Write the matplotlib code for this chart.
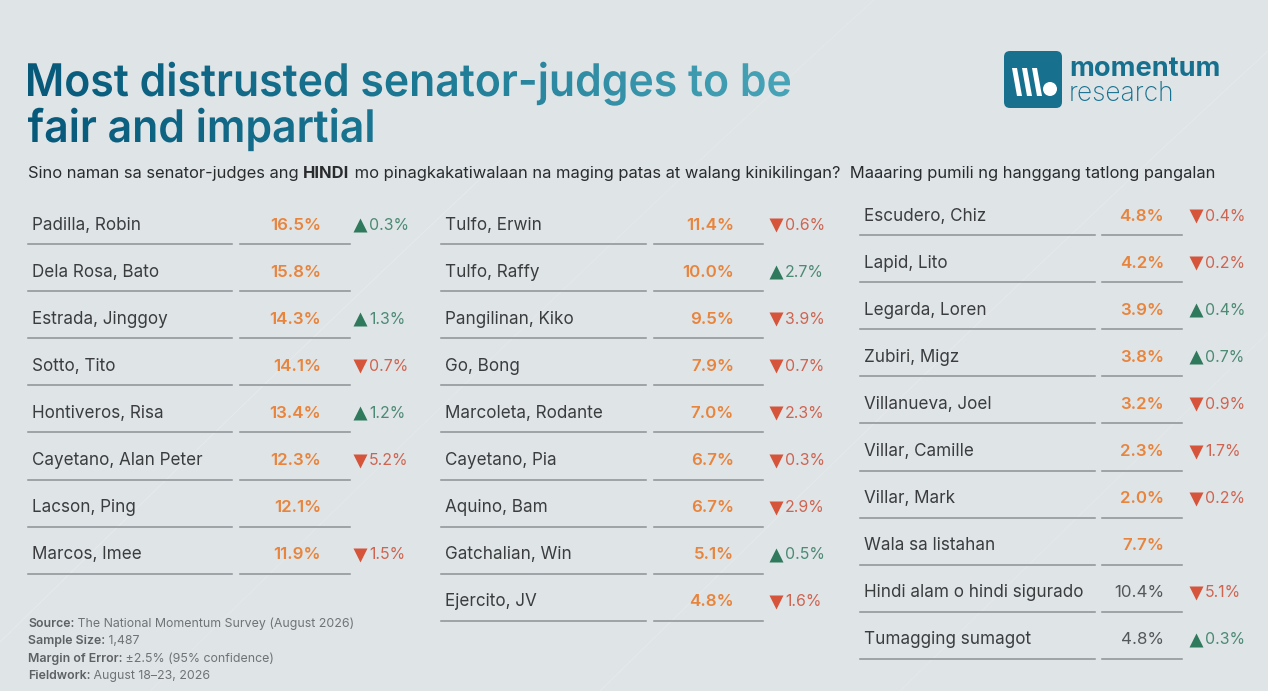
import matplotlib.pyplot as plt
import numpy as np
from matplotlib.textpath import TextPath
from matplotlib.patches import PathPatch, FancyBboxPatch, Circle, Polygon
from matplotlib.font_manager import FontProperties
from matplotlib.transforms import Affine2D
from matplotlib.colors import LinearSegmentedColormap

plt.rcParams['font.family'] = ['Inter', 'DejaVu Sans']

# data
names1 = ['Padilla, Robin', 'Dela Rosa, Bato', 'Estrada, Jinggoy', 'Sotto, Tito',
          'Hontiveros, Risa', 'Cayetano, Alan Peter', 'Lacson, Ping', 'Marcos, Imee']
vals1 = [16.5, 15.8, 14.3, 14.1, 13.4, 12.3, 12.1, 11.9]
chg1 = [0.3, None, 1.3, -0.7, 1.2, -5.2, None, -1.5]

names2 = ['Tulfo, Erwin', 'Tulfo, Raffy', 'Pangilinan, Kiko', 'Go, Bong',
          'Marcoleta, Rodante', 'Cayetano, Pia', 'Aquino, Bam', 'Gatchalian, Win',
          'Ejercito, JV']
vals2 = [11.4, 10.0, 9.5, 7.9, 7.0, 6.7, 6.7, 5.1, 4.8]
chg2 = [-0.6, 2.7, -3.9, -0.7, -2.3, -0.3, -2.9, 0.5, -1.6]

names3 = ['Escudero, Chiz', 'Lapid, Lito', 'Legarda, Loren', 'Zubiri, Migz',
          'Villanueva, Joel', 'Villar, Camille', 'Villar, Mark', 'Wala sa listahan',
          'Hindi alam o hindi sigurado', 'Tumagging sumagot']
vals3 = [4.8, 4.2, 3.9, 3.8, 3.2, 2.3, 2.0, 7.7, 10.4, 4.8]
chg3 = [-0.4, -0.2, 0.4, 0.7, -0.9, -1.7, -0.2, None, -5.1, 0.3]
neutral3 = [False] * 8 + [True, True]   # non-candidate answers shown in grey

title_lines = ['Most distrusted senator-judges to be', 'fair and impartial']
subtitle = ['Sino naman sa senator-judges ang ', 'HINDI',
            ' mo pinagkakatiwalaan na maging patas at walang kinikilingan?  Maaaring pumili ng hanggang tatlong pangalan']
footer = [('Source:', ' The National Momentum Survey (August 2026)'),
          ('Sample Size:', ' 1,487'),
          ('Margin of Error:', ' ±2.5% (95% confidence)'),
          ('Fieldwork:', ' August 18–23, 2026')]

BG = '#dfe4e7'
ORANGE = '#e8843c'
RED = '#d6543a'
GREEN = '#2f7a5c'
NAME_C = '#3b3c3e'
LINE_C = '#8b9194'

fig = plt.figure(figsize=(12.68, 6.91), dpi=100)
fig.patch.set_facecolor(BG)
ax = fig.add_axes([0, 0, 1, 1])
ax.set_xlim(0, 1268)
ax.set_ylim(691, 0)
ax.axis('off')

# faint background streaks
for x0, x1, a in [(-50, 500, 0.22), (150, 900, 0.15), (600, 1300, 0.2), (900, 1400, 0.15)]:
    xs = np.linspace(x0, x1, 50)
    ax.plot(xs, 691 - (xs - x0) * 0.9 - 40 * np.sin((xs - x0) / 500), color='white',
            lw=0.7, alpha=a, zorder=0)

# title with left-to-right gradient, squeezed to the reference width
fp_title = FontProperties(family='Inter', weight='semibold')
grad = np.linspace(0, 1, 256).reshape(1, -1)
cmap = LinearSegmentedColormap.from_list('t', ['#07597a', '#1b7893', '#48a5b8'])
w1 = TextPath((0, 0), title_lines[0], size=45, prop=fp_title).get_extents().width
sx = 762 / w1
for i, line in enumerate(title_lines):
    tp = TextPath((0, 0), line, size=45, prop=fp_title)
    base = 96 + i * 46
    x0 = tp.get_extents().x0
    tr = Affine2D().translate(-x0, 0).scale(sx, -1).translate(28, base) + ax.transData
    patch = PathPatch(tp, transform=tr, facecolor='none', edgecolor='none')
    ax.add_patch(patch)
    im = ax.imshow(grad, cmap=cmap, extent=(28, 790, base + 15, base - 45), aspect='auto',
                   vmin=0, vmax=1, zorder=2)
    im.set_clip_path(patch)
ax.set_xlim(0, 1268)
ax.set_ylim(691, 0)

# subtitle
fig.canvas.draw()
rend = fig.canvas.get_renderer()
x = 28
for j, part in enumerate(subtitle):
    t = ax.text(x, 173, part, fontsize=11.9, color='#2a2b2d', va='center',
                fontweight='bold' if j == 1 else 'normal')
    x = t.get_window_extent(rend).x1

# logo
ax.add_patch(FancyBboxPatch((1004, 51), 58, 57, boxstyle='round,pad=0,rounding_size=6',
                            facecolor='#17718e', edgecolor='none'))
for bx in [1012, 1022, 1032]:
    ax.add_patch(Polygon([(bx, 68), (bx + 5, 68), (bx + 10, 96), (bx + 5, 96)],
                         facecolor='white', edgecolor='none'))
ax.add_patch(Circle((1050, 89), 7, facecolor='white', edgecolor='none'))
ax.text(1069, 76, 'momentum', fontsize=19.5, fontweight='bold', color='#17718e',
        va='baseline')
ax.text(1069, 101, 'research', fontsize=19, fontweight='light', color='#17718e',
        va='baseline')


def draw_column(names, vals, chgs, x_name, name_end, val_start, val_end, x_val, x_arrow,
                y0, neutral=None):
    for k, (n, v, c) in enumerate(zip(names, vals, chgs)):
        y = y0 + k * 47.1
        ax.text(x_name, y, n, fontsize=12.3, color=NAME_C, va='center')
        grey = neutral[k] if neutral else False
        ax.text(x_val, y, f'{v:.1f}%', fontsize=12.2, va='center', ha='right',
                color='#55585b' if grey else ORANGE,
                fontweight='normal' if grey else 'semibold')
        ax.plot([x_name - 4, name_end], [y + 19, y + 19], color=LINE_C, lw=1.1)
        ax.plot([val_start, val_end], [y + 19, y + 19], color=LINE_C, lw=1.1)
        if c is not None:
            up = c > 0
            ax.plot(x_arrow, y, marker='^' if up else 'v', ms=10.5,
                    color=GREEN if up else RED, mec='none')
            ax.text(x_arrow + 9, y, f'{abs(c):.1f}%', fontsize=11.4, va='center',
                    color='#4c8a73' if up else '#cf6450')


draw_column(names1, vals1, chg1, 32, 232, 240, 350, 321, 360, 225)
draw_column(names2, vals2, chg2, 445, 646, 654, 763, 734, 776, 225)
draw_column(names3, vals3, chg3, 864, 1095, 1102, 1182, 1164, 1196, 216, neutral3)

# footer
for k, (b, r) in enumerate(footer):
    y = 624 + k * 17.3
    t = ax.text(28, y, b, fontsize=8.9, fontweight='semibold', color='#5d6164', va='center')
    ax.text(t.get_window_extent(rend).x1, y, r, fontsize=8.9, color='#6f7376', va='center')

fig.savefig('out.png', dpi=100, facecolor=BG)
